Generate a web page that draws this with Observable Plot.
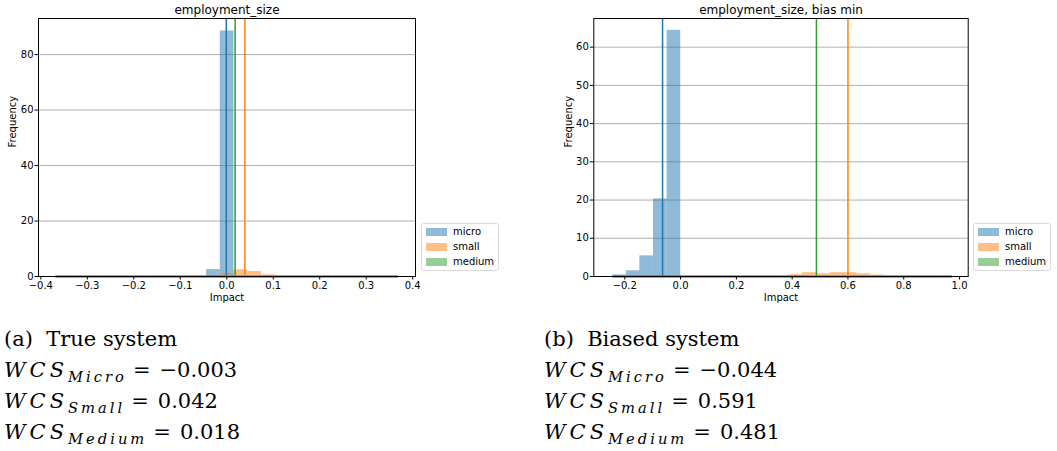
<!DOCTYPE html>
<html>
<head>
<meta charset="utf-8">
<script src="https://cdn.jsdelivr.net/npm/d3@7"></script>
<script src="https://cdn.jsdelivr.net/npm/@observablehq/plot@0.6"></script>
<style>
  html, body { margin: 0; padding: 0; background: #fff; }
  #root { position: relative; width: 1057px; height: 451px; overflow: hidden; font-family: "DejaVu Sans", sans-serif; }
  .panel { position: absolute; top: 0; }
  .panel svg, .panel svg text { font-family: "DejaVu Sans", sans-serif !important; }
  .legend { position: absolute; border: 1px solid #d9d9d9; border-radius: 3px; background: rgba(255,255,255,0.8); box-sizing: border-box; font-family: "DejaVu Sans", sans-serif; font-size: 10px; color: #000; }
  .legend .row { position: absolute; left: 0; height: 15px; }
  .legend .sw { position: absolute; left: 4px; top: 3px; width: 21px; height: 8px; }
  .legend .lb { position: absolute; left: 31px; top: 0; line-height: 14px; white-space: nowrap; }
  .cap { position: absolute; font-family: "DejaVu Serif", serif; font-size: 21px; color: #000; white-space: nowrap; line-height: 22px; }
  .cap .m { font-style: italic; letter-spacing: 4px; }
  .cap .s { font-style: italic; font-size: 14.7px; letter-spacing: 3px; position: relative; top: 4.5px; }
  .cap .eq { display: inline-block; margin: 0 9px 0 6px; }
</style>
</head>
<body>
<div id="root"></div>
<script>
// ---------------- data ----------------
const groups = ["micro", "small", "medium"];
const groupColors = ["#1f77b4", "#ff7f0e", "#2ca02c"];

// Panel (a): True system
const aTitle = "employment_size";
const aBinWidth = 0.0295;
const aHistRange = [-0.368, 0.370];
const aMicroStart = [-0.0435, -0.014];
const aMicroFreq = [2.5, 88.5];
const aSmallStart = [-0.014, 0.0155, 0.045, 0.0745];
const aSmallFreq = [1.0, 2.4, 1.8, 0.6];
const aMediumStart = [];
const aMediumFreq = [];
const aLines = [-0.001, 0.039, 0.018]; // micro, small, medium
const aXTicks = [-0.4, -0.3, -0.2, -0.1, 0.0, 0.1, 0.2, 0.3, 0.4];
const aYTicks = [0, 20, 40, 60, 80];
const aXDomain = [-0.405, 0.406];
const aYDomain = [0, 93];

// Panel (b): Biased system
const bTitle = "employment_size, bias min";
const bBinWidth = 0.0487;
const bHistRange = [-0.243, 0.974];
const bMicroStart = [-0.243, -0.194, -0.146, -0.097, -0.048];
const bMicroFreq = [0.4, 1.5, 5.4, 20.3, 64.4];
const bSmallStart = [0.390, 0.438, 0.487, 0.536, 0.584, 0.633, 0.682];
const bSmallFreq = [0.5, 1.0, 0.7, 1.0, 1.0, 0.7, 0.4];
const bMediumStart = [];
const bMediumFreq = [];
const bLines = [-0.0645, 0.600, 0.487];
const bXTicks = [-0.2, 0.0, 0.2, 0.4, 0.6, 0.8, 1.0];
const bYTicks = [0, 10, 20, 30, 40, 50, 60];
const bXDomain = [-0.311, 1.031];
const bYDomain = [0, 67.5];

// Captions
const aCaptionHead = "(a)";
const aCaptionText = "True system";
const bCaptionHead = "(b)";
const bCaptionText = "Biased system";
const wcsNames = ["Micro", "Small", "Medium"];
const aWCS = ["−0.003", "0.042", "0.018"];
const bWCS = ["−0.044", "0.591", "0.481"];

// ---------------- build ----------------
const FONT = "'DejaVu Sans', sans-serif";
function rows(starts, freqs, width, g) {
  return starts.map((s, i) => ({group: g, x1: s, x2: s + width, freq: freqs[i]}));
}

function panel(cfg) {
  const bars = [
    ...rows(cfg.micro[0], cfg.micro[1], cfg.bw, 0),
    ...rows(cfg.small[0], cfg.small[1], cfg.bw, 1),
    ...rows(cfg.medium[0], cfg.medium[1], cfg.bw, 2)
  ];
  const lines = cfg.lines.map((v, i) => ({group: i, value: v}));
  const fmt = d3.format(".1f");
  return Plot.plot({
    width: cfg.width, height: 310,
    marginLeft: cfg.ml, marginRight: cfg.mr, marginTop: 18, marginBottom: 34,
    style: {fontFamily: FONT, fontSize: "10px", color: "#000", background: "transparent", overflow: "visible"},
    x: {domain: cfg.xDomain, label: null},
    y: {domain: cfg.yDomain, label: null},
    marks: [
      Plot.gridY(cfg.yTicks, {stroke: "#b0b0b0", strokeOpacity: 1, strokeWidth: 1}),
      Plot.ruleY([{x1: cfg.range[0], x2: cfg.range[1]}], {x1: "x1", x2: "x2", y: () => 0, stroke: "#444", strokeWidth: 1.8}),
      Plot.rect(bars, {x1: "x1", x2: "x2", y1: () => 0, y2: "freq", fill: d => groupColors[d.group], fillOpacity: 0.5}),
      Plot.ruleX(lines, {x: "value", stroke: d => groupColors[d.group], strokeWidth: 1.5}),
      Plot.frame({stroke: "#000", strokeWidth: 1}),
      Plot.axisX({ticks: cfg.xTicks, tickFormat: fmt, tickSize: 3.5, tickPadding: 1.5, label: null, fontSize: 10, fontFamily: FONT}),
      Plot.axisY({ticks: cfg.yTicks, tickFormat: d3.format("d"), tickSize: 3.5, tickPadding: 1.5, label: null, fontSize: 10, fontFamily: FONT}),
      Plot.text([cfg.title], {frameAnchor: "top", lineAnchor: "middle", dy: -8, fontSize: 12, fill: "#000", fontFamily: FONT}),
      Plot.text(["Impact"], {frameAnchor: "bottom", lineAnchor: "middle", dy: 21, fontSize: 10, fill: "#000", fontFamily: FONT}),
      Plot.text(["Frequency"], {frameAnchor: "left", lineAnchor: "middle", dx: -25.5, rotate: -90, fontSize: 10, fill: "#000", fontFamily: FONT})
    ]
  });
}

const root = document.getElementById("root");

function addPanel(left, cfg) {
  const d = document.createElement("div");
  d.className = "panel";
  d.style.left = left + "px";
  d.appendChild(panel(cfg));
  root.appendChild(d);
}

addPanel(0, {
  width: 520, ml: 38, mr: 105, title: aTitle, bw: aBinWidth, range: aHistRange,
  micro: [aMicroStart, aMicroFreq], small: [aSmallStart, aSmallFreq], medium: [aMediumStart, aMediumFreq],
  lines: aLines, xTicks: aXTicks, yTicks: aYTicks, xDomain: aXDomain, yDomain: aYDomain
});
addPanel(530, {
  width: 527, ml: 63.3, mr: 89.3, title: bTitle, bw: bBinWidth, range: bHistRange,
  micro: [bMicroStart, bMicroFreq], small: [bSmallStart, bSmallFreq], medium: [bMediumStart, bMediumFreq],
  lines: bLines, xTicks: bXTicks, yTicks: bYTicks, xDomain: bXDomain, yDomain: bYDomain
});

function addLegend(left, top, width) {
  const lg = document.createElement("div");
  lg.className = "legend";
  lg.style.left = left + "px";
  lg.style.top = top + "px";
  lg.style.width = width + "px";
  lg.style.height = "48px";
  groups.forEach((g, i) => {
    const r = document.createElement("div");
    r.className = "row";
    r.style.top = (1 + i * 15) + "px";
    const sw = document.createElement("div");
    sw.className = "sw";
    sw.style.background = groupColors[i];
    sw.style.opacity = 0.5;
    const lb = document.createElement("div");
    lb.className = "lb";
    lb.textContent = g;
    r.appendChild(sw); r.appendChild(lb);
    lg.appendChild(r);
  });
  root.appendChild(lg);
}
addLegend(421, 223, 78);
addLegend(973, 223, 78);

function addCaption(left, head, text, values) {
  const lines = [];
  lines.push(`${head}&nbsp;&nbsp;${text}`);
  values.forEach((v, i) => {
    lines.push(`<span class="m">WCS</span><span class="s">${wcsNames[i]}</span><span class="eq">=</span>${v}`);
  });
  lines.forEach((html, i) => {
    const d = document.createElement("div");
    d.className = "cap";
    d.style.left = left + "px";
    d.style.top = (328 + i * 31) + "px";
    d.innerHTML = html;
    root.appendChild(d);
  });
}
addCaption(4, aCaptionHead, aCaptionText, aWCS);
addCaption(544, bCaptionHead, bCaptionText, bWCS);
</script>
</body>
</html>
